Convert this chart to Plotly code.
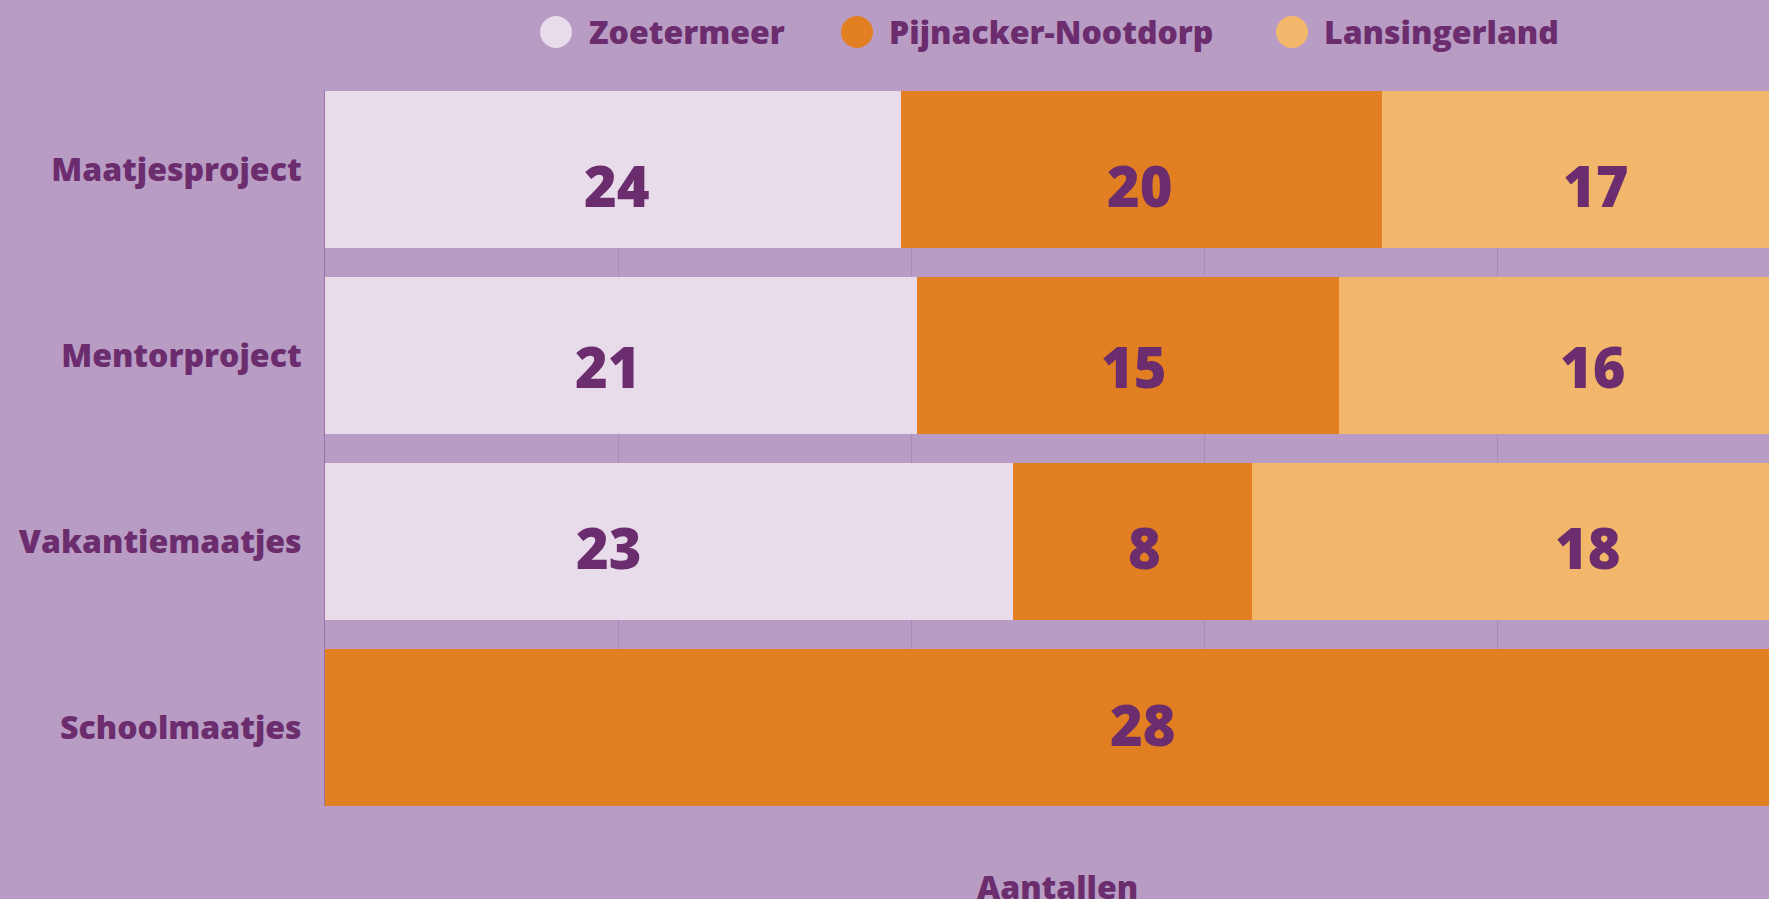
import plotly.graph_objects as go

# ---- data ----
categories = ["Maatjesproject", "Mentorproject", "Vakantiemaatjes", "Schoolmaatjes"]
series_names = ["Zoetermeer", "Pijnacker-Nootdorp", "Lansingerland"]
zoetermeer = [24, 21, 23, None]
pijnacker = [20, 15, 8, 28]
lansingerland = [17, 16, 18, None]
axis_title = "Aantallen"

# ---- style ----
W, H = 1769, 899
ML, MR, MT, MB = 325, 0, 91, 93
BG = "#b99cc4"
TXT = "#6b2d6d"
GRID = "#a98bb7"
colors = ["#e8dcea", "#e27f22", "#f2b76b"]
FONT = "Open Sans"
WEIGHT = 800
BARGAP = 0.156
xmax = 100 * (W - ML) / 1465.0  # plot continues beyond right edge of window

# label nudges (pixels) relative to segment centres, per row / per series
label_dx = [[4, -2, 10], [-13, 6, 28], [-60, 12, 67], [0, 85, 0]]
label_dy = [-16, -10, -5, 4]

series = [zoetermeer, pijnacker, lansingerland]

fig = go.Figure()
for name, vals, col in zip(series_names, series, colors):
    fig.add_trace(go.Bar(
        y=categories, x=vals, name=name, orientation="h",
        marker=dict(color=col, line=dict(width=0)),
        showlegend=False, hoverinfo="x+name",
    ))

annotations = []
for i, cat in enumerate(categories):
    vals = [s[i] for s in series]
    total = sum(v for v in vals if v is not None)
    cum = 0
    for j, v in enumerate(vals):
        if v is None:
            continue
        centre = (cum + v / 2) / total * 100
        cum += v
        annotations.append(dict(
            x=centre, y=cat, xref="x", yref="y", text=str(v), showarrow=False,
            xanchor="center", yanchor="middle",
            xshift=label_dx[i][j], yshift=label_dy[i],
            font=dict(family=FONT, size=56, color=TXT, weight=WEIGHT),
        ))

pw = W - ML - MR
ph = H - MT - MB

# axis title
annotations.append(dict(
    x=50, y=(H - MB - 886) / ph, xref="x", yref="paper", text=axis_title,
    showarrow=False, xanchor="center", yanchor="middle",
    font=dict(family=FONT, size=32, color=TXT, weight=WEIGHT),
))

# manual legend with round markers
leg_circle_px = [556, 857, 1292]
leg_text_px = [587, 887, 1322]
leg_y_px = 32
ly = (H - MB - leg_y_px) / ph
shapes = []
for name, col, cx, tx in zip(series_names, colors, leg_circle_px, leg_text_px):
    xp = (cx - ML) / pw
    shapes.append(dict(
        type="circle", xref="paper", yref="paper",
        xsizemode="pixel", ysizemode="pixel",
        xanchor=xp, yanchor=ly, x0=-16, x1=16, y0=-16, y1=16,
        fillcolor=col, line=dict(width=0), layer="above",
    ))
    annotations.append(dict(
        x=(tx - ML) / pw, y=ly, xref="paper", yref="paper", text=name,
        showarrow=False, xanchor="left", yanchor="middle",
        font=dict(family=FONT, size=32, color=TXT, weight=WEIGHT),
    ))

half = BARGAP / 2
fig.update_layout(
    width=W, height=H,
    margin=dict(l=ML, r=MR, t=MT, b=MB, pad=0),
    paper_bgcolor=BG, plot_bgcolor=BG,
    barmode="stack", barnorm="percent", bargap=BARGAP,
    annotations=annotations, shapes=shapes,
    showlegend=False,
    font=dict(family=FONT, color=TXT),
    xaxis=dict(
        range=[0, xmax], showticklabels=False, ticks="",
        tickvals=[0, 20, 40, 60, 80, 100],
        showgrid=True, gridcolor=GRID, gridwidth=1,
        zeroline=False, showline=False, fixedrange=True,
    ),
    yaxis=dict(
        categoryorder="array", categoryarray=categories,
        range=[len(categories) - 0.5 - half, -0.5 + half],
        showgrid=False, zeroline=False, ticks="",
        showline=True, linecolor="#9a72aa", linewidth=1,
        tickfont=dict(family=FONT, size=32, color=TXT, weight=WEIGHT),
        ticklabelstandoff=16, fixedrange=True,
    ),
)

fig.write_html(
    "out.html",
    config={"displayModeBar": False},
    post_script="document.body.style.margin='0';document.body.style.background='" + BG + "';",
)
